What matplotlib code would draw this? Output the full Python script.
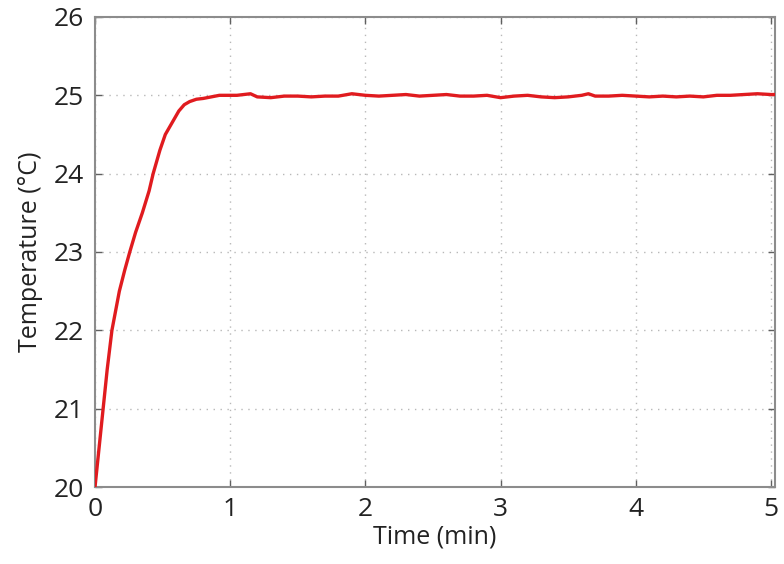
import matplotlib
matplotlib.use("Agg")
import matplotlib.pyplot as plt

plt.rcParams['font.family'] = ['Open Sans', 'DejaVu Sans']

time_min = [0.0, 0.03, 0.06, 0.09, 0.125, 0.18, 0.22, 0.257, 0.30, 0.35, 0.40, 0.43,
            0.48, 0.52, 0.57, 0.62, 0.66, 0.70, 0.75, 0.80, 0.86, 0.92, 1.0, 1.05,
            1.1, 1.15, 1.2, 1.3, 1.4, 1.5, 1.6, 1.7, 1.8, 1.9, 2.0, 2.1, 2.2, 2.3,
            2.4, 2.5, 2.6, 2.7, 2.8, 2.9, 3.0, 3.1, 3.2, 3.3, 3.4, 3.5, 3.6, 3.65,
            3.7, 3.8, 3.9, 4.0, 4.1, 4.2, 4.3, 4.4, 4.5, 4.6, 4.7, 4.8, 4.9, 5.0, 5.05]
temperature = [20.0, 20.5, 21.0, 21.5, 22.0, 22.5, 22.77, 23.0, 23.25, 23.5, 23.78, 24.0,
               24.3, 24.5, 24.65, 24.8, 24.88, 24.92, 24.95, 24.96, 24.98, 25.0, 25.0, 25.0,
               25.01, 25.02, 24.98, 24.97, 24.99, 24.99, 24.98, 24.99, 24.99, 25.02, 25.0, 24.99, 25.0, 25.01,
               24.99, 25.0, 25.01, 24.99, 24.99, 25.0, 24.97, 24.99, 25.0, 24.98, 24.97, 24.98, 25.0, 25.02,
               24.99, 24.99, 25.0, 24.99, 24.98, 24.99, 24.98, 24.99, 24.98, 25.0, 25.0, 25.01, 25.02, 25.01, 25.01]

x_ticks = [0, 1, 2, 3, 4, 5]
y_ticks = [20, 21, 22, 23, 24, 25, 26]

fig = plt.figure(figsize=(7.84, 5.64), dpi=100)
ax = fig.add_axes([0.1212, 0.1365, 0.8673, 0.8334])
ax.plot(time_min, temperature, color='#e01b1f', linewidth=2.4, zorder=3)
ax.set_xlim(0, 5.03)
ax.set_ylim(20, 26)
ax.set_xticks(x_ticks)
ax.set_yticks(y_ticks)
ax.grid(True, color='#b8b8b8', linestyle=(0, (1, 4)), linewidth=1.0)
ax.tick_params(direction='in', top=True, right=True, length=5, width=1,
               color='#606060', labelsize=19, labelcolor='#222222')
ax.tick_params(axis='y', pad=8)
ax.tick_params(axis='x', pad=7)
for s in ax.spines.values():
    s.set_color('#8c8c8c')
    s.set_linewidth(1.5)
ax.set_xlabel('Time (min)', fontsize=18, color='#222222', labelpad=2)
ax.set_ylabel('Temperature (°C)', fontsize=18, color='#222222', labelpad=8)
fig.savefig('out.png', dpi=100)
